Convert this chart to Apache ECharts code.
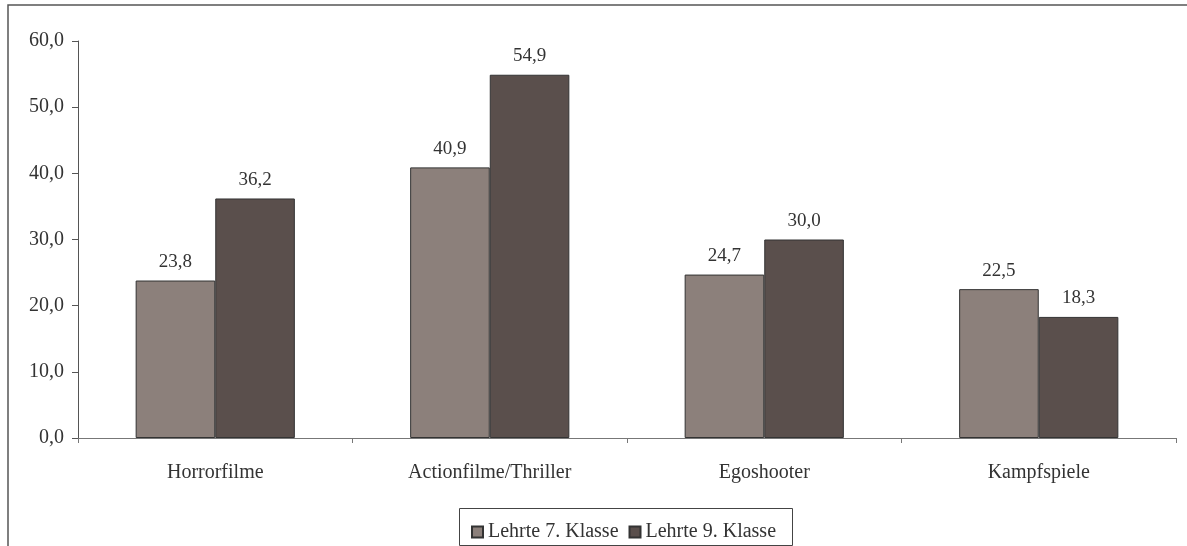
<!DOCTYPE html>
<html>
<head>
<meta charset="utf-8">
<script src="https://cdn.jsdelivr.net/npm/echarts@6/dist/echarts.min.js"></script>
<style>
html, body { margin: 0; padding: 0; background: #fff; }
#main { width: 1187px; height: 546px; }
</style>
</head>
<body>
<div id="main"></div>
<script>
var categories = ['Horrorfilme', 'Actionfilme/Thriller', 'Egoshooter', 'Kampfspiele'];
var klasse7 = [23.8, 40.9, 24.7, 22.5];
var klasse9 = [36.2, 54.9, 30.0, 18.3];
var seriesNames = ['Lehrte 7. Klasse', 'Lehrte 9. Klasse'];

var myChart = echarts.init(document.getElementById('main'));
var fmt = function (v) { return v.toFixed(1).replace('.', ','); };
var serif = '"Liberation Serif", "DejaVu Serif", serif';

var option = {
    backgroundColor: '#fff',
    animation: false,
    textStyle: { fontFamily: serif },
    graphic: [{
        // outer frame, cropped at the right and bottom
        type: 'rect',
        shape: { x: 8, y: 5, width: 1300, height: 700 },
        style: { fill: 'none', stroke: '#555', lineWidth: 1.5 },
        silent: true
    }, {
        // legend box
        type: 'rect',
        shape: { x: 459.5, y: 508.5, width: 333, height: 37 },
        style: { fill: 'none', stroke: '#444', lineWidth: 1 },
        silent: true
    }],
    grid: { left: 78, right: 11, top: 41, bottom: 108, containLabel: false },
    legend: {
        data: seriesNames,
        left: 466,
        top: 517,
        itemWidth: 11,
        itemHeight: 11,
        itemGap: 10,
        icon: 'rect',
        textStyle: { fontFamily: serif, fontSize: 20, color: '#333', padding: [0, 0, 0, 0] }
    },
    xAxis: {
        type: 'category',
        data: categories,
        axisLine: { lineStyle: { color: '#777', width: 1 } },
        axisTick: { show: true, length: 5, alignWithLabel: false, lineStyle: { color: '#777' } },
        axisLabel: { fontFamily: serif, fontSize: 20, color: '#333', margin: 25 }
    },
    yAxis: {
        type: 'value',
        min: 0,
        max: 60,
        interval: 10,
        splitLine: { show: false },
        axisLine: { show: true, lineStyle: { color: '#555', width: 1 } },
        axisTick: { show: true, length: 6, lineStyle: { color: '#555' } },
        axisLabel: { fontFamily: serif, fontSize: 20, color: '#333', margin: 14, formatter: fmt }
    },
    series: [{
        name: seriesNames[0],
        type: 'bar',
        data: klasse7,
        barGap: '0%',
        barCategoryGap: '42%',
        itemStyle: { color: '#8c807b', borderColor: '#333', borderWidth: 1 },
        label: {
            show: true, position: 'top', distance: 9,
            fontFamily: serif, fontSize: 19, color: '#333',
            formatter: function (p) { return fmt(p.value); }
        }
    }, {
        name: seriesNames[1],
        type: 'bar',
        data: klasse9,
        itemStyle: { color: '#5a4f4c', borderColor: '#333', borderWidth: 1 },
        label: {
            show: true, position: 'top', distance: 9,
            fontFamily: serif, fontSize: 19, color: '#333',
            formatter: function (p) { return fmt(p.value); }
        }
    }]
};
myChart.setOption(option);
</script>
</body>
</html>
